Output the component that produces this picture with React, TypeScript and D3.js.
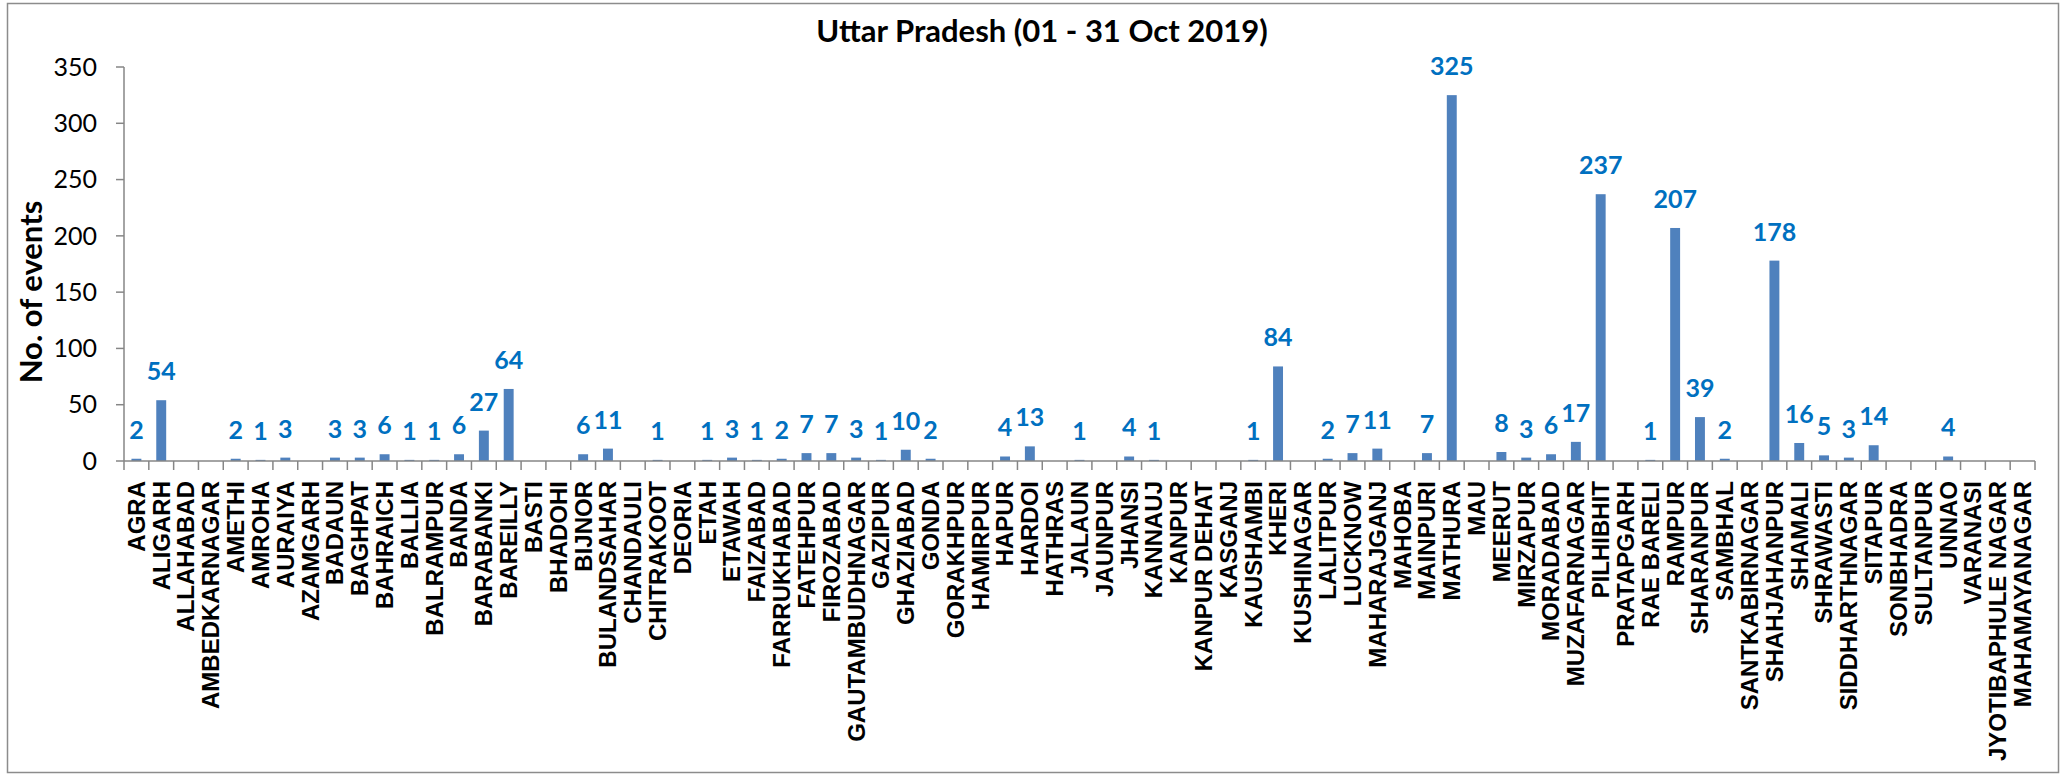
import * as d3 from "d3";
import React, { useEffect } from "react";

const districts = [
  "AGRA", "ALIGARH", "ALLAHABAD", "AMBEDKARNAGAR", "AMETHI", "AMROHA", "AURAIYA",
  "AZAMGARH", "BADAUN", "BAGHPAT", "BAHRAICH", "BALLIA", "BALRAMPUR", "BANDA",
  "BARABANKI", "BAREILLY", "BASTI", "BHADOHI", "BIJNOR", "BULANDSAHAR", "CHANDAULI",
  "CHITRAKOOT", "DEORIA", "ETAH", "ETAWAH", "FAIZABAD", "FARRUKHABAD", "FATEHPUR",
  "FIROZABAD", "GAUTAMBUDHNAGAR", "GAZIPUR", "GHAZIABAD", "GONDA", "GORAKHPUR",
  "HAMIRPUR", "HAPUR", "HARDOI", "HATHRAS", "JALAUN", "JAUNPUR", "JHANSI", "KANNAUJ",
  "KANPUR", "KANPUR DEHAT", "KASGANJ", "KAUSHAMBI", "KHERI", "KUSHINAGAR", "LALITPUR",
  "LUCKNOW", "MAHARAJGANJ", "MAHOBA", "MAINPURI", "MATHURA", "MAU", "MEERUT",
  "MIRZAPUR", "MORADABAD", "MUZAFARNAGAR", "PILHIBHIT", "PRATAPGARH", "RAE BARELI",
  "RAMPUR", "SHARANPUR", "SAMBHAL", "SANTKABIRNAGAR", "SHAHJAHANPUR", "SHAMALI",
  "SHRAWASTI", "SIDDHARTHNAGAR", "SITAPUR", "SONBHADRA", "SULTANPUR", "UNNAO",
  "VARANASI", "JYOTIBAPHULE NAGAR", "MAHAMAYANAGAR",
];

const events = [
  2, 54, 0, 0, 2, 1, 3,
  0, 3, 3, 6, 1, 1, 6,
  27, 64, 0, 0, 6, 11, 0,
  1, 0, 1, 3, 1, 2, 7,
  7, 3, 1, 10, 2, 0,
  0, 4, 13, 0, 1, 0, 4, 1,
  0, 0, 0, 1, 84, 0, 2,
  7, 11, 0, 7, 325, 0, 8,
  3, 6, 17, 237, 0, 1,
  207, 39, 2, 0, 178, 16,
  5, 3, 14, 0, 0, 4,
  0, 0, 0,
];

const yTicks = [0, 50, 100, 150, 200, 250, 300, 350];

const W = 2067;
const H = 775;
const left = 124;
const right = 2035;
const top = 67;
const bottom = 461;

const AXIS = "#868686";
const BAR = "#4F81BD";
const LABEL = "#0070C0";
const SANS = "Lato, 'Open Sans', sans-serif";

export default function App() {
  useEffect(() => {
    document.body.style.margin = "0";
  }, []);

  const x = d3
    .scaleBand<string>()
    .domain(districts)
    .range([left, right])
    .paddingInner(0.6)
    .paddingOuter(0.3);

  const y = d3.scaleLinear().domain([0, 350]).range([bottom, top]);

  const step = (right - left) / districts.length;

  return (
    <svg width={W} height={H} style={{ display: "block" }}>
      <rect width={W} height={H} fill="#fff" />
      <rect x={7.5} y={3.5} width={2051} height={769} fill="none" stroke="#8c8c8c" strokeWidth={1.5} />

      <text x={1042} y={42} textAnchor="middle" fontFamily={SANS} fontWeight="bold" fontSize={31}>
        Uttar Pradesh (01 - 31 Oct 2019)
      </text>

      <text
        transform="translate(42, 292) rotate(-90)"
        textAnchor="middle"
        fontFamily={SANS}
        fontWeight="bold"
        fontSize={31}
      >
        No. of events
      </text>

      {/* y axis */}
      <line x1={left} x2={left} y1={top} y2={bottom} stroke={AXIS} strokeWidth={1.5} />
      {yTicks.map((t) => (
        <g key={t}>
          <line x1={left - 8} x2={left} y1={y(t)} y2={y(t)} stroke={AXIS} strokeWidth={1.5} />
          <text x={97} y={y(t)} dy="0.35em" textAnchor="end" fontFamily={SANS} fontSize={25}>
            {t}
          </text>
        </g>
      ))}

      {/* bars */}
      {districts.map((d, i) => (
        <rect
          key={d}
          x={x(d)}
          y={y(events[i])}
          width={x.bandwidth()}
          height={bottom - y(events[i])}
          fill={BAR}
        />
      ))}

      {/* value labels, zero values left blank */}
      {districts.map((d, i) =>
        events[i] > 0 ? (
          <text
            key={d}
            x={(x(d) as number) + x.bandwidth() / 2}
            y={y(events[i]) - 20}
            textAnchor="middle"
            fontFamily={SANS}
            fontWeight="bold"
            fontSize={25}
            fill={LABEL}
          >
            {events[i]}
          </text>
        ) : null
      )}

      {/* x axis */}
      <line x1={left} x2={right} y1={bottom} y2={bottom} stroke={AXIS} strokeWidth={1.5} />
      {d3.range(districts.length + 1).map((i) => (
        <line
          key={i}
          x1={left + i * step}
          x2={left + i * step}
          y1={bottom}
          y2={bottom + 9}
          stroke={AXIS}
          strokeWidth={1.5}
        />
      ))}
      {districts.map((d) => (
        <text
          key={d}
          transform={`translate(${(x(d) as number) + x.bandwidth() / 2}, 481) rotate(-90)`}
          dy="0.35em"
          textAnchor="end"
          fontFamily="'Liberation Sans', Arial, sans-serif"
          fontWeight="bold"
          fontSize={24}
        >
          {d}
        </text>
      ))}
    </svg>
  );
}
